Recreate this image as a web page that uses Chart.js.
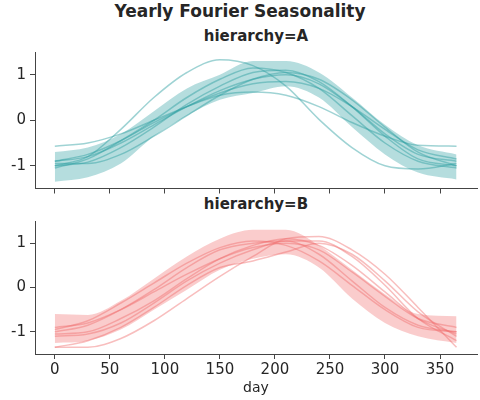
<!DOCTYPE html>
<html><head><meta charset="utf-8">
<script src="https://cdn.jsdelivr.net/npm/chart.js@4"></script>
<style>
body{margin:0;width:480px;height:400px;background:#fff;font-family:"DejaVu Sans",sans-serif;position:relative;overflow:hidden}
.t{position:absolute;font-weight:bold;color:#262626;text-align:center}
.c{position:absolute;left:0;width:480px}
</style></head><body>
<div class="t" style="left:0;width:480px;top:1px;font-size:17px">Yearly Fourier Seasonality</div>
<div class="t" style="left:35px;width:442px;top:27px;font-size:15px">hierarchy=A</div>
<div class="t" style="left:35px;width:442px;top:195px;font-size:15px">hierarchy=B</div>
<div class="c" style="top:38.5px;height:162.5px"><canvas id="a"></canvas></div>
<div class="c" style="top:207.5px;height:192.5px"><canvas id="b"></canvas></div>
<script>
const days=[0,30,60,90,120,150,180,210,240,270,300,330,365];
const xTicks=[0,50,100,150,200,250,300,350];
const yTicks=[-1,0,1];
const bandA_hi=[-0.7,-0.6,-0.3,0.2,0.7,1.0,1.3,1.3,1.05,0.5,-0.1,-0.55,-0.75];
const bandA_lo=[-1.35,-1.25,-0.95,-0.35,0.1,0.45,0.6,0.75,0.5,-0.15,-0.75,-1.15,-1.3];
const linesA=[
[-1.0,-0.8,-0.2,0.5,1.05,1.33,1.2,0.75,0.02,-0.6,-1.0,-1.07,-0.95],
[-0.57,-0.5,-0.3,0.0,0.3,0.55,0.62,0.55,0.3,-0.05,-0.35,-0.55,-0.57],
[-1.0,-0.92,-0.6,-0.15,0.35,0.75,1.05,1.1,0.85,0.3,-0.35,-0.85,-1.0],
[-0.95,-0.95,-0.75,-0.35,0.1,0.55,0.9,1.05,0.9,0.45,-0.15,-0.7,-1.0],
[-1.05,-0.85,-0.45,0.0,0.5,0.9,1.15,1.05,0.7,0.1,-0.5,-0.9,-1.05],
[-0.9,-0.8,-0.5,-0.1,0.3,0.65,0.9,1.0,0.8,0.3,-0.3,-0.75,-0.9],
[-0.9,-0.75,-0.45,-0.05,0.3,0.6,0.8,0.85,0.7,0.3,-0.2,-0.65,-0.85]];
const bandB_hi=[-0.6,-0.62,-0.3,0.2,0.7,1.1,1.3,1.3,0.95,0.4,-0.15,-0.6,-0.65];
const bandB_lo=[-1.25,-1.2,-0.95,-0.5,-0.05,0.4,0.65,0.75,0.45,-0.25,-0.8,-1.1,-1.25];
const linesB=[
[-1.35,-1.35,-1.15,-0.75,-0.25,0.25,0.7,1.1,1.15,0.85,0.3,-0.45,-1.35],
[-1.35,-1.2,-0.9,-0.45,0.05,0.45,0.6,0.8,1.0,0.75,0.15,-0.55,-1.1],
[-1.0,-0.85,-0.5,-0.05,0.45,0.85,1.0,1.05,0.75,0.15,-0.45,-0.85,-1.0],
[-0.95,-0.75,-0.35,0.1,0.55,0.9,1.05,0.95,0.6,0.05,-0.5,-0.9,-1.0],
[-1.05,-1.0,-0.7,-0.3,0.2,0.65,0.95,1.1,0.95,0.5,-0.1,-0.7,-1.05],
[-0.9,-0.8,-0.5,-0.1,0.3,0.65,0.9,1.0,0.85,0.35,-0.2,-0.7,-0.9],
[-1.1,-1.05,-0.8,-0.35,0.15,0.55,0.85,1.05,1.05,0.7,0.05,-0.7,-1.2]];
const pts=v=>days.map((d,i)=>({x:d,y:v[i]}));
function make(id,hi,lo,lines,rgb,showX,xh){
  const ds=[
    {data:pts(hi),fill:'+1',backgroundColor:`rgba(${rgb},0.35)`,borderWidth:0,pointRadius:0,cubicInterpolationMode:'monotone'},
    {data:pts(lo),fill:false,borderWidth:0,pointRadius:0,cubicInterpolationMode:'monotone'}];
  lines.forEach(l=>ds.push({data:pts(l),fill:false,borderColor:`rgba(${rgb},0.45)`,borderWidth:1.5,pointRadius:0,cubicInterpolationMode:'monotone'}));
  new Chart(document.getElementById(id),{type:'line',data:{datasets:ds},
   options:{responsive:true,maintainAspectRatio:false,animation:false,
    layout:{padding:{top:5,right:3,left:0,bottom:0}},
    plugins:{legend:{display:false},tooltip:{enabled:false}},
    scales:{
     x:{type:'linear',min:-18,max:383.6,
        afterBuildTicks:s=>{s.ticks=xTicks.map(v=>({value:v}))},
        afterFit:s=>{s.height=xh},
        title:{display:showX,text:'day',color:'#262626',font:{size:14,family:'DejaVu Sans'},padding:{top:2}},
        ticks:{display:showX,color:'#262626',font:{size:15,family:'DejaVu Sans'},padding:2,maxRotation:0},
        grid:{drawOnChartArea:false,tickLength:5,color:'#444'},border:{color:'#444'}},
     y:{min:-1.5,max:1.5,
        afterBuildTicks:s=>{s.ticks=yTicks.map(v=>({value:v}))},
        afterFit:s=>{s.width=35},
        ticks:{color:'#262626',font:{size:15,family:'DejaVu Sans'},padding:4},
        grid:{drawOnChartArea:false,tickLength:5,color:'#444'},border:{color:'#444'}}
    }}});
}
make('a',bandA_hi,bandA_lo,linesA,'42,157,160',false,9.5);
make('b',bandB_hi,bandB_lo,linesB,'240,110,110',true,46.5);
</script></body></html>
